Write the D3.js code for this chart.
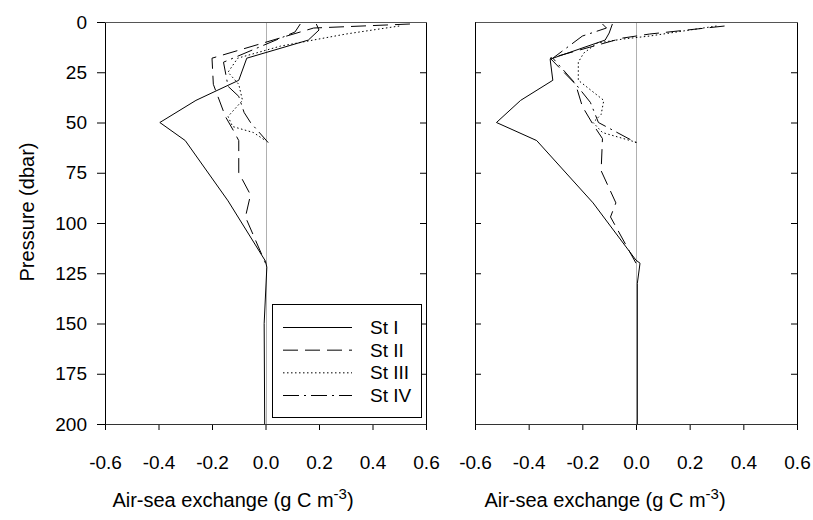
<!DOCTYPE html>
<html>
<head>
<meta charset="utf-8">
<script src="https://cdn.jsdelivr.net/npm/d3@7"></script>
<style>
  html, body { margin: 0; padding: 0; background: #fff; }
  svg { display: block; font-family: "Liberation Sans", Arial, sans-serif; }
</style>
</head>
<body>
<svg id="chart" width="813" height="520"></svg>
<script>
// Station profiles: pressure (dbar) and air-sea exchange (g C m-3)
const stations = ["St I", "St II", "St III", "St IV"];
const xTicks = [-0.6, -0.4, -0.2, 0.0, 0.2, 0.4, 0.6];
const yTicks = [0, 25, 50, 75, 100, 125, 150, 175, 200];

// Left panel
const leftP1 = [1, 4, 9, 18, 29, 39, 50, 59, 89, 119, 122, 150, 200];
const leftV1 = [0.19, 0.2, 0.16, -0.07, -0.10, -0.26, -0.395, -0.30, -0.14, 0.0, 0.005, -0.005, -0.003];
const leftP2 = [1, 3, 18, 31, 47, 54, 59, 75, 86, 97, 120];
const leftV2 = [0.54, 0.18, -0.2, -0.195, -0.15, -0.12, -0.1, -0.1, -0.056, -0.075, 0.0];
const leftP3 = [2, 6, 12, 18, 25, 31, 39, 47, 52, 55, 59];
const leftV3 = [0.5, 0.3, 0.056, -0.104, -0.14, -0.1, -0.086, -0.14, -0.123, -0.045, 0.0];
const leftP4 = [1, 5, 20, 32, 37, 45, 50, 60];
const leftV4 = [0.13, 0.11, -0.157, -0.14, -0.1, -0.08, -0.056, 0.01];

// Right panel
const rightP1 = [1, 5.5, 9, 18.5, 29, 39, 50, 59, 90, 118.5, 120, 130, 200];
const rightV1 = [-0.088, -0.1, -0.115, -0.32, -0.31, -0.43, -0.52, -0.37, -0.16, 0.0, 0.015, 0.005, 0.005];
const rightP2 = [2, 6, 8, 18, 31, 42, 51, 58, 74, 90, 97, 120];
const rightV2 = [0.33, 0.05, -0.05, -0.32, -0.225, -0.2, -0.16, -0.125, -0.13, -0.075, -0.095, 0.0];
const rightP3 = [2, 7, 8.5, 10.5, 15.5, 20, 29, 39, 46, 50, 55, 60];
const rightV3 = [0.3, 0.05, -0.05, -0.145, -0.195, -0.215, -0.215, -0.12, -0.13, -0.16, -0.125, 0.005];
const rightP4 = [1, 3, 7, 18, 30, 40, 50, 60];
const rightV4 = [-0.125, -0.11, -0.2, -0.31, -0.23, -0.17, -0.14, 0.0];

const dashes = ["none", "15,7", "1.5,2.5", "16,5,2,5"];

const svg = d3.select("#chart");
const plotTop = 22, plotBottom = 424;
const y = d3.scaleLinear().domain([0, 200]).range([plotTop, plotBottom]);

const panels = [
  { x0: 105, x1: 426, lines: [[leftP1, leftV1], [leftP2, leftV2], [leftP3, leftV3], [leftP4, leftV4]], labels: true, titleX: 233 },
  { x0: 475, x1: 797, lines: [[rightP1, rightV1], [rightP2, rightV2], [rightP3, rightV3], [rightP4, rightV4]], labels: false, titleX: 605 }
];

panels.forEach(p => {
  const x = d3.scaleLinear().domain([-0.6, 0.6]).range([p.x0, p.x1]);
  const g = svg.append("g");

  // zero reference
  g.append("line")
    .attr("x1", Math.round(x(0)) + 0.5).attr("x2", Math.round(x(0)) + 0.5)
    .attr("y1", plotTop).attr("y2", plotBottom)
    .attr("stroke", "#b0b0b0").attr("stroke-width", 1);

  // profiles
  const line = d3.line().x(d => x(d[1])).y(d => y(d[0]));
  p.lines.forEach((s, i) => {
    const pts = d3.zip(s[0], s[1]);
    g.append("path").datum(pts)
      .attr("d", line)
      .attr("fill", "none")
      .attr("stroke", "#000")
      .attr("stroke-width", 1)
      .attr("stroke-dasharray", dashes[i] === "none" ? null : dashes[i]);
  });

  // bottom axis
  const xAxis = d3.axisBottom(x).tickValues(xTicks).tickSizeInner(6).tickSizeOuter(0)
    .tickFormat(d3.format(".1f"));
  const gx = g.append("g").attr("transform", `translate(0,${plotBottom})`).call(xAxis);
  gx.selectAll("text").attr("font-size", 19).attr("dy", null).attr("y", 45).attr("fill", "#000")
    .text(d => d3.format(".1f")(d).replace("−", "-"));
  gx.select(".domain").remove();

  // left axis
  const yAxisL = d3.axisLeft(y).tickValues(yTicks).tickSizeOuter(0)
    .tickSizeInner(p.labels ? 8 : -6);
  const gy = g.append("g").attr("transform", `translate(${p.x0},0)`).call(yAxisL);
  gy.select(".domain").remove();
  if (p.labels) {
    gy.selectAll("text").attr("font-size", 19).attr("x", -18).attr("fill", "#000");
  } else {
    gy.selectAll("text").remove();
  }

  // right axis (inward ticks)
  const yAxisR = d3.axisRight(y).tickValues(yTicks).tickSizeOuter(0).tickSizeInner(-6).tickFormat("");
  const gr = g.append("g").attr("transform", `translate(${p.x1},0)`).call(yAxisR);
  gr.select(".domain").remove();

  // frame: horizontal edges slightly lighter than the vertical ones
  const fx0 = p.x0 + 0.5, fx1 = p.x1 + 0.5, fy0 = plotTop + 0.5, fy1 = plotBottom + 0.5;
  [[fx0, fy0, fx1, fy0, "#555"], [fx0, fy1, fx1, fy1, "#333"],
   [fx0, fy0, fx0, fy1, "#000"], [fx1, fy0, fx1, fy1, "#000"]].forEach(e => {
    g.append("line").attr("x1", e[0]).attr("y1", e[1]).attr("x2", e[2]).attr("y2", e[3])
      .attr("stroke", e[4]).attr("stroke-width", 1);
  });

  // axis title
  const t = g.append("text")
    .attr("x", p.titleX).attr("y", 507)
    .attr("text-anchor", "middle")
    .attr("font-size", 20).attr("fill", "#000");
  t.append("tspan").text("Air-sea exchange (g C m");
  t.append("tspan").attr("font-size", 15).attr("dy", -8).text("-3");
  t.append("tspan").attr("dy", 8).text(")");
});

// y title
svg.append("text")
  .attr("transform", "translate(34,212) rotate(-90)")
  .attr("text-anchor", "middle")
  .attr("font-size", 20).attr("fill", "#000")
  .text("Pressure (dbar)");

// legend
const lg = svg.append("g");
lg.append("rect").attr("x", 272.5).attr("y", 304.5).attr("width", 149).attr("height", 113)
  .attr("fill", "#fff").attr("stroke", "#000").attr("stroke-width", 1);
const legendY = d3.scalePoint().domain(stations).range([327, 395]);
stations.forEach((s, i) => {
  const yy = legendY(s);
  lg.append("line").attr("x1", 283).attr("x2", 352).attr("y1", yy + 0.5).attr("y2", yy + 0.5)
    .attr("stroke", "#000").attr("stroke-width", 1)
    .attr("stroke-dasharray", dashes[i] === "none" ? null : dashes[i]);
  lg.append("text").attr("x", 370).attr("y", yy + 7)
    .attr("font-size", 19).attr("fill", "#000").text(s);
});
</script>
</body>
</html>
